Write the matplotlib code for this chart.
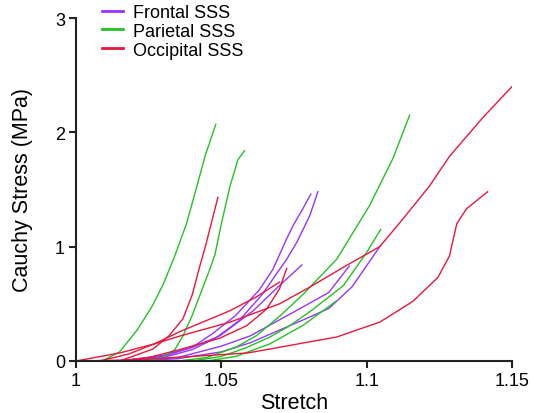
"""Stress-stretch curves for SSS samples from three regions (frontal, parietal, occipital)."""

import matplotlib
matplotlib.use("Agg")

import matplotlib.pyplot as plt

plt.rcParams["font.family"] = ["Liberation Sans", "DejaVu Sans"]

# colours per region
PURPLE = "#9933ff"
GREEN = "#22c322"
RED = "#e8173c"

# Frontal SSS (purple)
frontal_x = [
    [1.015, 1.03, 1.04, 1.047, 1.055, 1.063, 1.0677, 1.0725, 1.0746, 1.078, 1.0808],
    [1.018, 1.03, 1.04, 1.048, 1.056, 1.064, 1.070, 1.0725, 1.076, 1.0804, 1.0832],
    [1.015, 1.03, 1.04, 1.0495, 1.061, 1.070, 1.0777],
    [1.02, 1.035, 1.05, 1.06, 1.070, 1.080, 1.087, 1.094],
    [1.02, 1.035, 1.05, 1.06, 1.070, 1.080, 1.087, 1.095, 1.1045],
]
frontal_y = [
    [0, 0.04, 0.12, 0.24, 0.40, 0.62, 0.80, 1.07, 1.18, 1.33, 1.46],
    [0, 0.03, 0.10, 0.20, 0.35, 0.58, 0.80, 0.89, 1.04, 1.27, 1.48],
    [0, 0.05, 0.12, 0.22, 0.44, 0.66, 0.84],
    [0, 0.03, 0.13, 0.22, 0.36, 0.50, 0.60, 0.83],
    [0, 0.02, 0.08, 0.16, 0.27, 0.38, 0.46, 0.65, 1.0],
]

# Parietal SSS (green)
parietal_x = [
    [1.009, 1.015, 1.021, 1.026, 1.030, 1.034, 1.038, 1.0415, 1.0445, 1.0481],
    [1.024, 1.030, 1.034, 1.0368, 1.040, 1.043, 1.046, 1.0478, 1.050, 1.053, 1.0557, 1.058],
    [1.035, 1.045, 1.055, 1.062, 1.070, 1.078, 1.0897, 1.101, 1.109, 1.1148],
    [1.04, 1.05, 1.058, 1.0667, 1.073, 1.0804, 1.087, 1.092, 1.100, 1.1048],
    [1.045, 1.055, 1.0667, 1.078, 1.0893],
]
parietal_y = [
    [0, 0.08, 0.27, 0.47, 0.67, 0.92, 1.20, 1.52, 1.80, 2.07],
    [0, 0.03, 0.10, 0.22, 0.40, 0.60, 0.80, 0.93, 1.20, 1.53, 1.76, 1.84],
    [0, 0.03, 0.12, 0.22, 0.39, 0.58, 0.89, 1.36, 1.77, 2.15],
    [0, 0.04, 0.11, 0.21, 0.30, 0.43, 0.56, 0.66, 0.95, 1.15],
    [0, 0.04, 0.15, 0.31, 0.52],
]

# Occipital SSS (red)
occipital_x = [
    [1.0, 1.015, 1.027, 1.036, 1.053, 1.070, 1.080, 1.092, 1.1045, 1.1124, 1.1216, 1.1285, 1.14, 1.15],
    [1.015, 1.0265, 1.032, 1.0368, 1.040, 1.0426, 1.0445, 1.0465, 1.0488],
    [1.015, 1.025, 1.0357, 1.0495, 1.0588, 1.0656, 1.070, 1.0725],
    [1.008, 1.018, 1.027, 1.036, 1.0426, 1.053, 1.062, 1.070],
    [1.0, 1.02, 1.04, 1.059, 1.070, 1.0897, 1.1045, 1.1158, 1.1245, 1.1285, 1.130, 1.131, 1.1343, 1.1416],
]
occipital_y = [
    [0, 0.07, 0.15, 0.22, 0.34, 0.50, 0.64, 0.82, 1.0, 1.24, 1.53, 1.79, 2.13, 2.40],
    [0, 0.105, 0.22, 0.37, 0.58, 0.83, 1.0, 1.2, 1.43],
    [0, 0.03, 0.10, 0.20, 0.31, 0.455, 0.63, 0.81],
    [0, 0.06, 0.15, 0.26, 0.33, 0.44, 0.56, 0.69],
    [0, 0.01, 0.04, 0.07, 0.12, 0.21, 0.34, 0.52, 0.73, 0.92, 1.09, 1.20, 1.33, 1.48],
]

groups = [
    ("Frontal SSS", PURPLE, frontal_x, frontal_y),
    ("Parietal SSS", GREEN, parietal_x, parietal_y),
    ("Occipital SSS", RED, occipital_x, occipital_y),
]

x_ticks = [1, 1.05, 1.1, 1.15]
x_tick_labels = ["1", "1.05", "1.1", "1.15"]
y_ticks = [0, 1, 2, 3]

fig = plt.figure(figsize=(5.48, 4.14), dpi=100)
ax = fig.add_axes([76 / 548, 52 / 414, 436 / 548, 343 / 414])

for label, color, xs, ys in groups:
    for i, (x, y) in enumerate(zip(xs, ys)):
        ax.plot(x, y, color=color, lw=1.0, label=label if i == 0 else None)

ax.set_xlim(1, 1.15)
ax.set_ylim(0, 3)
ax.set_xticks(x_ticks)
ax.set_xticklabels(x_tick_labels)
ax.set_yticks(y_ticks)
ax.tick_params(direction="out", length=5, width=1.5, labelsize=13, pad=3, color="#222222")
for side in ["top", "right"]:
    ax.spines[side].set_visible(False)
for side in ["left", "bottom"]:
    ax.spines[side].set_linewidth(1.5)
    ax.spines[side].set_color("#222222")

ax.set_xlabel("Stretch", fontsize=15.5)
ax.set_ylabel("Cauchy Stress (MPa)", fontsize=15.5)
ax.xaxis.set_label_coords(0.5, -0.09)
# ylabel anchor is the right edge of the rotated text
ax.yaxis.set_label_coords(-0.099, 0.5)

leg = fig.legend(loc="upper left", bbox_to_anchor=(102 / 548, 1 - 5 / 414),
                 frameon=False, fontsize=13, handlelength=1.17, handletextpad=0.55,
                 labelspacing=0.1, borderpad=0, borderaxespad=0)
for line in leg.get_lines():
    line.set_linewidth(2)

fig.savefig("out.png", dpi=100)
plt.close(fig)
